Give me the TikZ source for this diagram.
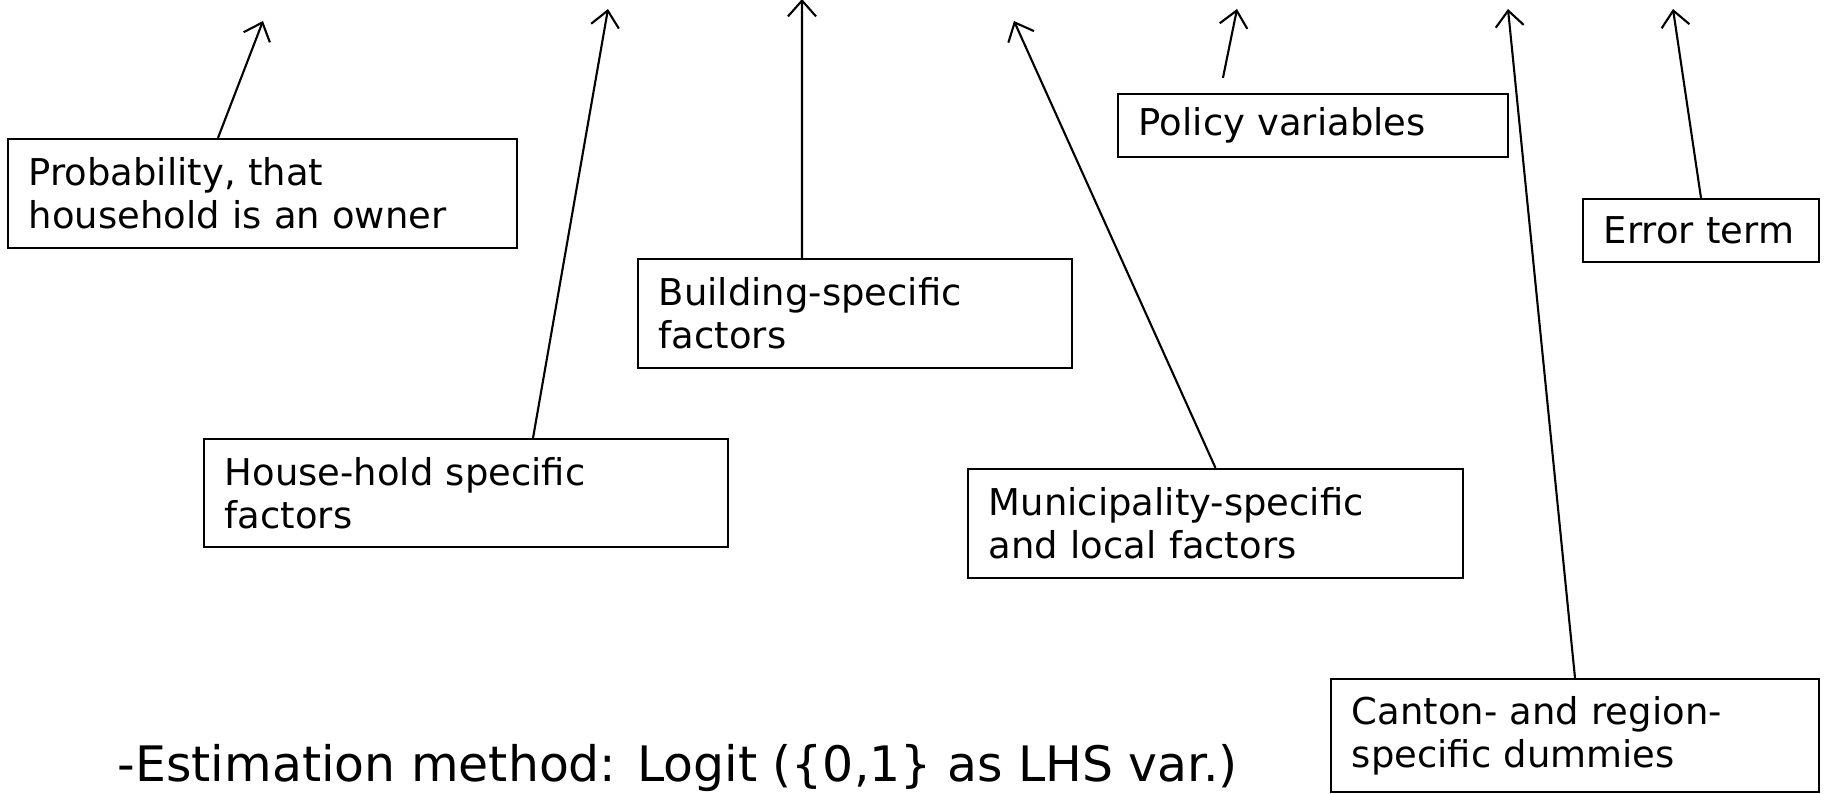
\documentclass[tikz,border=0pt]{standalone}
\usepackage{fontspec}
\setmainfont{DejaVu Sans}
\usetikzlibrary{arrows.meta}

\begin{document}
\begin{tikzpicture}[
    x=0.01cm, y=-0.01cm,
    factor/.style={rectangle,draw,line width=0.6pt,align=left,inner xsep=0.21cm,
        font=\fontsize{10.5}{12.3}\selectfont},
    link/.style={-{Straight Barb[length=4.5pt,width=8pt]},line width=0.6pt}
]
\useasboundingbox (0,0) rectangle (1826,793);

% Boxes
\node[factor,text width=4.67cm,minimum height=1.09cm] (prob) at (262.5,193.5) {Probability, that\\household is an owner};
\node[factor,text width=4.82cm,minimum height=1.08cm] (house) at (466,493) {House-hold specific\\factors};
\node[factor,text width=3.92cm,minimum height=1.09cm] (build) at (855,313.5) {Building-specific\\factors};
\node[factor,text width=4.53cm,minimum height=1.09cm] (munic) at (1215.5,523.5) {Municipality-specific\\and local factors};
\node[factor,text width=3.48cm,minimum height=0.63cm] (policy) at (1313,125.5) {Policy variables};
\node[factor,text width=4.46cm,minimum height=1.13cm] (canton) at (1575,735.5) {Canton- and region-\\specific dummies};
\node[factor,text width=1.94cm,minimum height=0.63cm] (error) at (1701,230.5) {Error term};

% Arrow ends
\coordinate (prob-end) at (263,21);
\coordinate (house-end) at (608,9);
\coordinate (build-end) at (802,-1);
\coordinate (munic-end) at (1014,21);
\coordinate (policy-end) at (1237,9);
\coordinate (canton-end) at (1508,9);
\coordinate (error-end) at (1673,9);

% Arrows
\draw[link] ([xshift=-0.445cm]prob.north) -- (prob-end);
\draw[link] ([xshift=0.67cm]house.north) -- (house-end);
\draw[link] ([xshift=-0.53cm]build.north) -- (build-end);
\draw[link] (munic.north) -- (munic-end);
\draw[link] ([xshift=-0.9cm,yshift=0.15cm]policy.north) -- (policy-end);
\draw[link] (canton.north) -- (canton-end);
\draw[link] (error.north) -- (error-end);

% Note
\node[anchor=base west,inner sep=0pt,font=\fontsize{13.9}{16}\selectfont] (method) at (117,781) {-Estimation method: Logit (\{0,1\} as LHS var.)};

\end{tikzpicture}
\end{document}
